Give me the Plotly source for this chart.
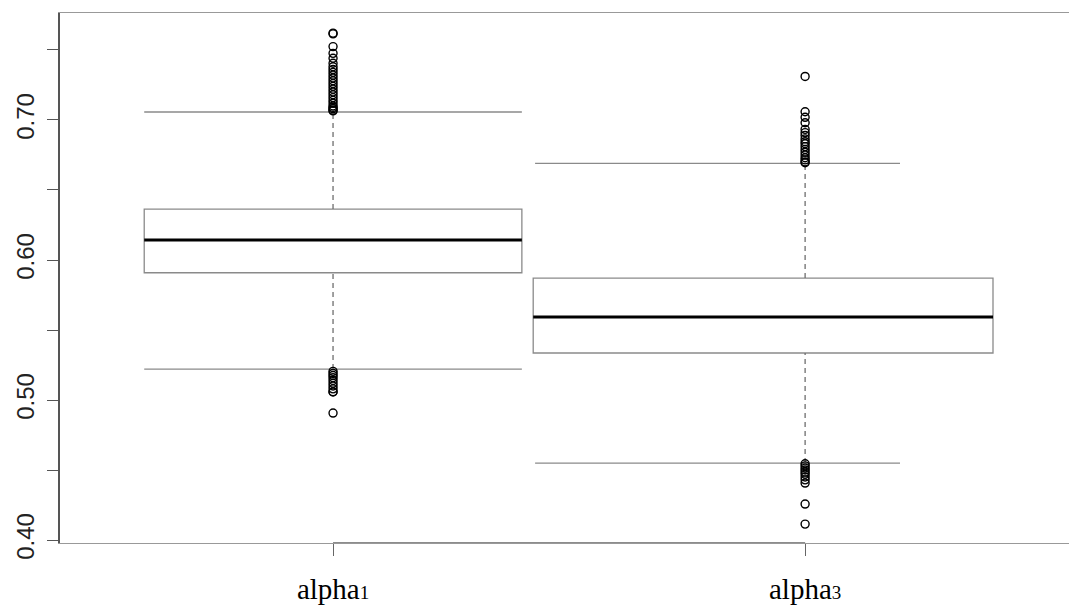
import plotly.graph_objects as go

# ---- data ----
categories = ["alpha<span style='font-size:19px'>1</span>",
              "alpha<span style='font-size:19px'>3</span>"]
positions = [1, 2]
q1 = [0.5909, 0.5336]
median = [0.6143, 0.5593]
q3 = [0.6364, 0.5871]
lower_whisker = [0.5221, 0.4550]
upper_whisker = [0.7057, 0.6690]
outliers_1 = [0.762, 0.7615, 0.7524, 0.7476, 0.7441, 0.7405, 0.738, 0.736, 0.734,
              0.732, 0.730, 0.728, 0.726, 0.724, 0.722, 0.720, 0.718, 0.716,
              0.714, 0.712, 0.710, 0.709, 0.708, 0.707, 0.7065,
              0.5205, 0.519, 0.5175, 0.516, 0.514, 0.512, 0.510, 0.508, 0.506,
              0.5057, 0.4907]
outliers_2 = [0.7311, 0.7059, 0.7019, 0.698, 0.6933, 0.691, 0.689, 0.6865, 0.6845,
              0.683, 0.681, 0.679, 0.677, 0.675, 0.673, 0.6715, 0.670, 0.6695,
              0.4545, 0.453, 0.4515, 0.450, 0.4485, 0.447, 0.445, 0.443, 0.4407,
              0.4257, 0.4114]
outliers = [outliers_1, outliers_2]
y_tickvals = [0.40, 0.50, 0.60, 0.70]
y_ticktext = ["0.40", "0.50", "0.60", "0.70"]
y_minor_tickvals = [0.45, 0.55, 0.65, 0.75]

# ---- geometry / style ----
box_left = [0.600, 1.424]
box_right = [1.400, 2.398]
cap_left = [0.600, 1.428]
cap_right = [1.400, 2.201]
GRAY = "#8a8a8a"
WGRAY = "#6e6e6e"

fig = go.Figure()

centers = [(l + r) / 2 for l, r in zip(box_left, box_right)]
widths = [r - l for l, r in zip(box_left, box_right)]
fig.add_trace(go.Bar(
    x=centers, base=q1, y=[b - a for a, b in zip(q1, q3)], width=widths,
    marker=dict(color="white", line=dict(color=GRAY, width=1.3)),
    hoverinfo="skip", showlegend=False))

for i in range(2):
    p = positions[i]
    # whiskers
    fig.add_trace(go.Scatter(x=[p, p], y=[q3[i], upper_whisker[i]], mode="lines",
                             line=dict(color=WGRAY, width=1.3, dash="5px,4px"),
                             showlegend=False, hoverinfo="skip"))
    fig.add_trace(go.Scatter(x=[p, p], y=[lower_whisker[i], q1[i]], mode="lines",
                             line=dict(color=WGRAY, width=1.3, dash="5px,4px"),
                             showlegend=False, hoverinfo="skip"))
    # caps
    for v in (upper_whisker[i], lower_whisker[i]):
        fig.add_trace(go.Scatter(x=[cap_left[i], cap_right[i]], y=[v, v], mode="lines",
                                 line=dict(color=GRAY, width=1.3),
                                 showlegend=False, hoverinfo="skip"))
    # median
    fig.add_trace(go.Scatter(x=[box_left[i], box_right[i]], y=[median[i], median[i]],
                             mode="lines", line=dict(color="black", width=3),
                             showlegend=False, hoverinfo="skip"))
    # outliers
    fig.add_trace(go.Scatter(x=[p] * len(outliers[i]), y=outliers[i], mode="markers",
                             marker=dict(symbol="circle-open", size=8,
                                         color="black", line=dict(width=1.4)),
                             showlegend=False, hoverinfo="skip"))

# darker axis segment between the two ticks
fig.add_trace(go.Scatter(x=[positions[0], positions[1]], y=[0.3979, 0.3979], mode="lines",
                         line=dict(color="#666666", width=1.5), cliponaxis=False,
                         showlegend=False, hoverinfo="skip"))

fig.update_layout(
    width=1069, height=609,
    margin=dict(l=60, r=0, t=13, b=66),
    paper_bgcolor="white", plot_bgcolor="white",
    barmode="overlay",
    xaxis=dict(range=[0.4216, 2.559], tickvals=positions, ticktext=categories,
               showgrid=False, zeroline=False, showline=True, mirror=True,
               linecolor="#999999", linewidth=1.3, ticks="outside", ticklen=12,
               tickcolor="#666666", tickwidth=1.3, ticklabelstandoff=8,
               tickfont=dict(family="Liberation Serif, Times New Roman, serif",
                             size=29, color="black")),
    yaxis=dict(range=[0.3979, 0.7764], tickvals=y_tickvals, ticktext=y_ticktext,
               showgrid=False, zeroline=False, showline=True,
               linecolor="#555555", linewidth=1.5, ticks="outside", ticklen=11,
               tickcolor="#555555", tickwidth=1.3, tickangle=-90,
               ticklabelstandoff=4,
               minor=dict(tickvals=y_minor_tickvals, ticks="outside", ticklen=11,
                          tickcolor="#555555", tickwidth=1.3, showgrid=False),
               tickfont=dict(family="Liberation Sans, Arial, sans-serif",
                             size=24, color="#222222")),
)

fig.write_html("out.html")
